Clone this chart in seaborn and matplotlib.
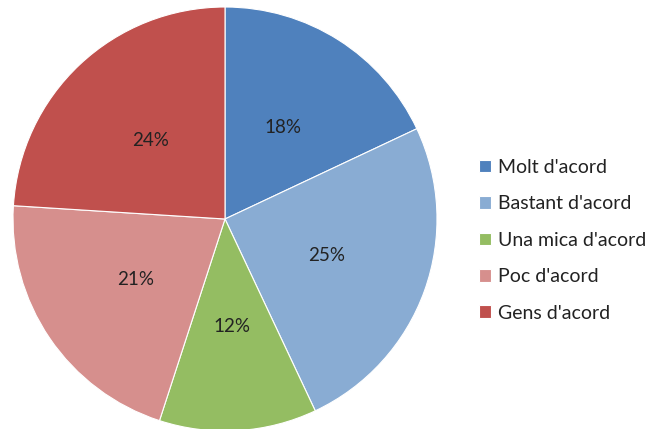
import matplotlib
matplotlib.use("Agg")
import matplotlib.pyplot as plt
import seaborn as sns

categories = ["Molt d'acord", "Bastant d'acord", "Una mica d'acord", "Poc d'acord", "Gens d'acord"]
values = [18, 25, 12, 21, 24]
colors = ["#4F81BD", "#89ACD3", "#94BD62", "#D68F8D", "#C0504D"]

sns.set_theme(style="white")
plt.rcParams['font.family'] = ['Lato', 'DejaVu Sans']

fig = plt.figure(figsize=(6.53, 4.29), dpi=100)
ax = fig.add_axes([13/653, -2/429, 424/653, 424/429])

wedges, texts, autotexts = ax.pie(values, colors=colors, startangle=90, counterclock=False,
                                  autopct='%d%%', pctdistance=0.51,
                                  wedgeprops=dict(edgecolor='white', linewidth=0.8),
                                  textprops=dict(fontsize=13.5, color='#222222'))
ax.set_xlim(-1, 1)
ax.set_ylim(-1, 1)
ax.set_aspect('equal')
ax.axis('off')

fig.legend(wedges, categories, loc='center left', bbox_to_anchor=(0.707, 0.44),
           frameon=False, fontsize=14, labelspacing=1.0, handlelength=0.62,
           handleheight=0.62, handletextpad=0.35, labelcolor='#222222')

fig.savefig("out.png", dpi=100)
